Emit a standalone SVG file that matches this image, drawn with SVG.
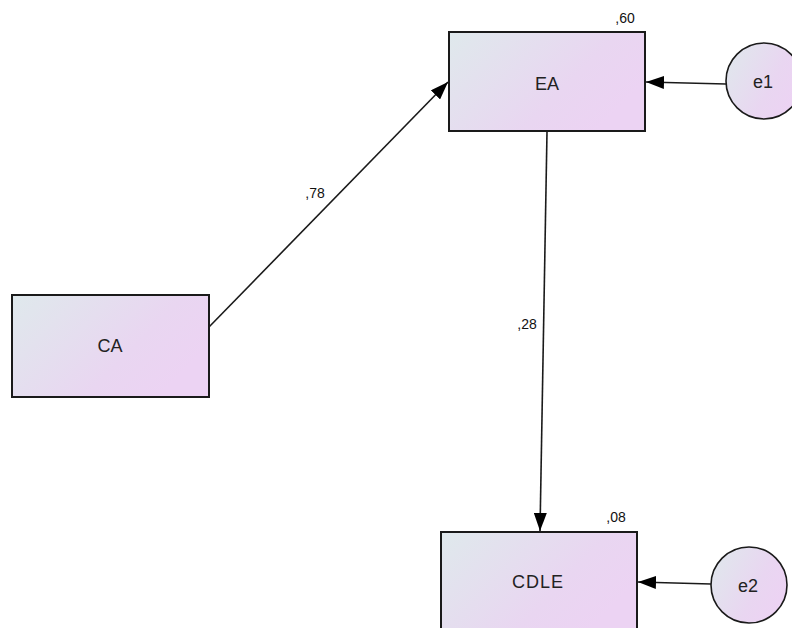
<svg xmlns="http://www.w3.org/2000/svg" width="792" height="628" viewBox="0 0 792 628">
<defs>
<linearGradient id="g" x1="0" y1="0" x2="1" y2="0.5">
<stop offset="0" stop-color="#dfe9ec"/>
<stop offset="0.7" stop-color="#e9d6f1"/>
<stop offset="1" stop-color="#ecd3f3"/>
</linearGradient>
<marker id="ah" viewBox="0 0 18 13" refX="18" refY="6.5" markerWidth="18" markerHeight="13" markerUnits="userSpaceOnUse" orient="auto">
<path d="M0,0 L18,6.5 L0,13 Z" fill="#000"/>
</marker>
<style>
.box{fill:url(#g);stroke:#1a1a1a;stroke-width:2}
.err{fill:url(#g);stroke:#1a1a1a;stroke-width:1.6}
.lbl{font-family:"Liberation Sans",Arial,sans-serif;font-size:18px;fill:#222;text-anchor:middle}
.num{font-family:"Liberation Sans",Arial,sans-serif;font-size:14px;fill:#111;text-anchor:middle}
.con{stroke:#1a1a1a;stroke-width:1.6;fill:none;marker-end:url(#ah)}
</style>
</defs>
<rect width="792" height="628" fill="#fff"/>
<g id="connectors">
<line class="con" x1="209" y1="327" x2="448" y2="82"/>
<line class="con" x1="547" y1="132" x2="540" y2="531"/>
<line class="con" x1="726" y1="84" x2="646" y2="82"/>
<line class="con" x1="711" y1="584" x2="638" y2="582"/>
<text class="num" x="315" y="198">,78</text>
<text class="num" x="527" y="329">,28</text>
</g>
<g id="EA">
<rect class="box" x="449" y="32" width="196" height="99"/>
<text class="lbl" x="547" y="90">EA</text>
<text class="num" x="625" y="23">,60</text>
</g>
<g id="CA">
<rect class="box" x="12" y="295" width="197" height="102"/>
<text class="lbl" x="110" y="352">CA</text>
</g>
<g id="CDLE">
<rect class="box" x="441" y="532" width="196" height="100"/>
<text class="lbl" x="538" y="588" letter-spacing="1">CDLE</text>
<text class="num" x="616" y="522">,08</text>
</g>
<g id="e1">
<circle class="err" cx="764" cy="81" r="38"/>
<text class="lbl" x="763" y="88">e1</text>
</g>
<g id="e2">
<circle class="err" cx="749" cy="585" r="38"/>
<text class="lbl" x="748" y="592">e2</text>
</g>
</svg>
